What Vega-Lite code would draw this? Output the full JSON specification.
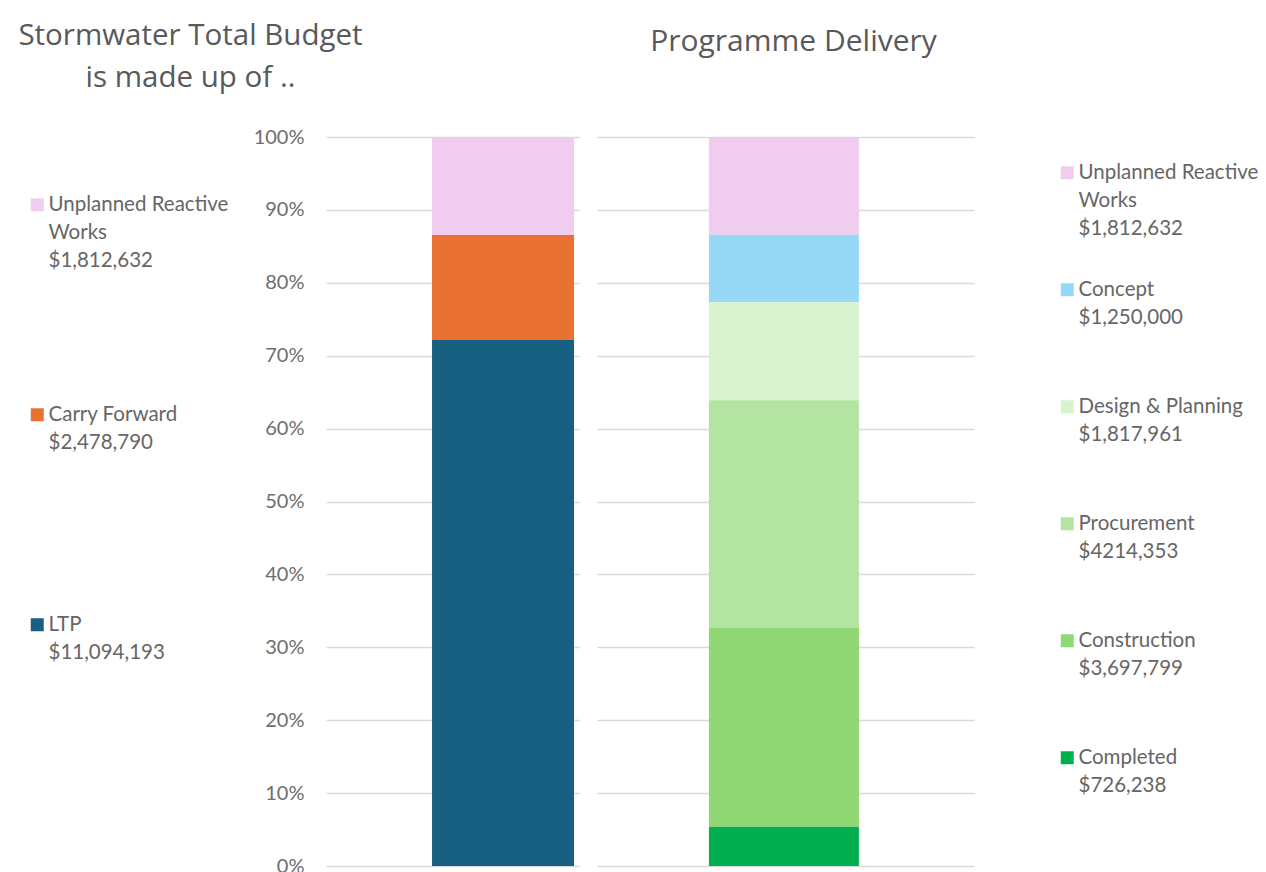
{
  "$schema": "https://vega.github.io/schema/vega-lite/v6.json",
  "background": "white",
  "autosize": {"type": "pad"},
  "padding": {"left": 17, "top": 20, "right": 5, "bottom": 5},
  "bounds": "flush",
  "spacing": 18,
  "datasets": {
    "budget": [
      {"bar": "Stormwater Total Budget", "item": "Unplanned Reactive Works|$1,812,632", "amount": 2068000, "stage_order": 3},
      {"bar": "Stormwater Total Budget", "item": "Carry Forward|$2,478,790", "amount": 2215000, "stage_order": 2},
      {"bar": "Stormwater Total Budget", "item": "LTP|$11,094,193", "amount": 11094193, "stage_order": 1}
    ],
    "delivery": [
      {"bar": "Programme Delivery", "item": "Unplanned Reactive Works|$1,812,632", "amount": 1812632, "stage_order": 6},
      {"bar": "Programme Delivery", "item": "Concept|$1,250,000", "amount": 1250000, "stage_order": 5},
      {"bar": "Programme Delivery", "item": "Design & Planning|\u00a0\u00a0$1,817,961", "amount": 1817961, "stage_order": 4},
      {"bar": "Programme Delivery", "item": "Procurement|\u00a0\u00a0$4214,353", "amount": 4214353, "stage_order": 3},
      {"bar": "Programme Delivery", "item": "Construction|$3,697,799", "amount": 3697799, "stage_order": 2},
      {"bar": "Programme Delivery", "item": "Completed|$726,238", "amount": 726238, "stage_order": 1}
    ]
  },
  "resolve": {"scale": {"color": "independent", "y": "independent", "x": "independent"}, "legend": {"color": "independent"}},
  "hconcat": [
    {
      "width": 253,
      "height": 729,
      "data": {"name": "budget"},
      "mark": {"type": "bar"},
      "encoding": {
        "x": {"field": "bar", "type": "nominal", "axis": null,
              "scale": {"paddingInner": 0, "paddingOuter": 0.391, "align": 0.955}},
        "y": {"field": "amount", "type": "quantitative", "stack": "normalize",
              "scale": {"domain": [0, 1]},
              "axis": {"format": "%", "values": [0, 0.1, 0.2, 0.3, 0.4, 0.5, 0.6, 0.7, 0.8, 0.9, 1],
                       "title": ["Stormwater Total Budget", "is made up of .."],
                       "titleAngle": 0, "titleX": -136, "titleY": -93, "titleAlign": "center",
                       "titleBaseline": "alphabetic", "titleLineHeight": 42,
                       "titleFont": "Open Sans", "titleFontSize": 29.5, "titleFontWeight": "normal", "titleColor": "#595959"}},
        "color": {"field": "item", "type": "nominal",
                  "scale": {"domain": ["Unplanned Reactive Works|$1,812,632", "Carry Forward|$2,478,790", "LTP|$11,094,193"],
                            "range": ["#F0CCEE", "#E97132", "#176082"]},
                  "legend": {"orient": "none", "legendX": -299, "legendY": 57.5, "rowPadding": 133,
                             "labelExpr": "split(replace(datum.label, 'Reactive ', 'Reactive|'), '|')",
                             "encode": {"labels": {"update": {"lineHeight": {"value": 28}}}}}},
        "order": {"field": "stage_order", "type": "quantitative"}
      }
    },
    {
      "width": 377,
      "height": 729,
      "data": {"name": "delivery"},
      "title": {"text": "Programme Delivery", "anchor": "middle", "dx": 8, "offset": 80,
                "font": "Open Sans", "fontSize": 30, "fontWeight": "normal", "color": "#595959"},
      "mark": {"type": "bar"},
      "encoding": {
        "x": {"field": "bar", "type": "nominal", "axis": null,
              "scale": {"paddingInner": 0, "paddingOuter": 0.757, "align": 0.493}},
        "y": {"field": "amount", "type": "quantitative", "stack": "normalize",
              "scale": {"domain": [0, 1]},
              "axis": {"values": [0, 0.1, 0.2, 0.3, 0.4, 0.5, 0.6, 0.7, 0.8, 0.9, 1],
                       "labels": false, "title": null}},
        "color": {"field": "item", "type": "nominal",
                  "scale": {"domain": ["Unplanned Reactive Works|$1,812,632", "Concept|$1,250,000", "Design & Planning|\u00a0\u00a0$1,817,961", "Procurement|\u00a0\u00a0$4214,353", "Construction|$3,697,799", "Completed|$726,238"],
                            "range": ["#F0CCEE", "#95D9F7", "#D9F2D0", "#B4E4A2", "#8FD873", "#00B050"]},
                  "legend": {"orient": "none", "legendX": 460, "legendY": 25.5, "rowPadding": 40,
                             "labelExpr": "split(replace(datum.label, 'Reactive ', 'Reactive|'), '|')",
                             "encode": {"labels": {"update": {"lineHeight": {"value": 28}}}}}},
        "order": {"field": "stage_order", "type": "quantitative"}
      }
    }
  ],
  "config": {
    "view": {"stroke": null},
    "axis": {
      "domain": false, "ticks": false,
      "grid": true, "gridColor": "#D9D9D9", "gridWidth": 1.5,
      "labelFont": "Lato", "labelFontSize": 20, "labelColor": "#6E6E6E", "labelPadding": 22
    },
    "legend": {
      "title": null,
      "symbolType": "square", "symbolSize": 169, "symbolStrokeWidth": 0, "symbolOpacity": 1,
      "labelFont": "Lato", "labelFontSize": 20.5, "labelColor": "#666666", "labelLimit": 400,
      "labelOffset": 1,
      "gridAlign": "all"
    }
  }
}
